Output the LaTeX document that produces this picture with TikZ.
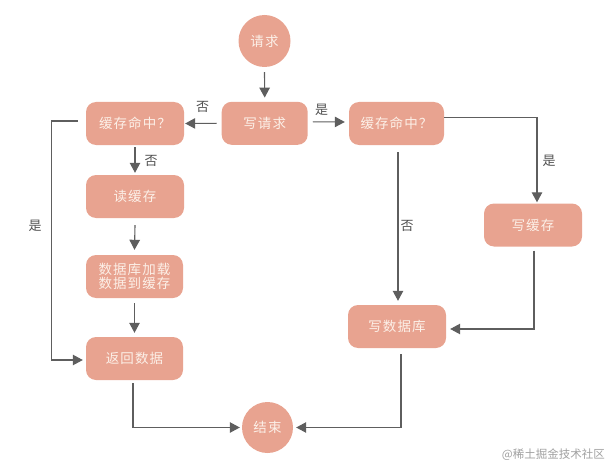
\documentclass[tikz,border=0pt]{standalone}
\usepackage{fontspec}
\usetikzlibrary{arrows.meta}
\newfontfamily\cjk[LetterSpace=8]{Noto Sans CJK SC}
\newfontfamily\cjklbl{Noto Sans CJK SC}
\definecolor{boxfill}{HTML}{E8A390}
\definecolor{boxtext}{HTML}{FCF0E8}
\definecolor{linec}{HTML}{5E5E5E}
\definecolor{lblc}{HTML}{505050}
\definecolor{wmark}{HTML}{A0A0A0}
\tikzset{
  box/.style={draw=none, fill=boxfill, rounded corners=10pt, minimum width=97pt, minimum height=43pt, inner sep=0pt, text=boxtext, font=\cjk\fontsize{13.5}{16}\selectfont, align=center},
  circ/.style={draw=none, fill=boxfill, circle, minimum size=52pt, inner sep=0pt, text=boxtext, font=\cjk\fontsize{13.5}{16}\selectfont},
  arr/.style={draw=linec, line width=1.1pt, -{Triangle[length=10pt,width=10.5pt]}},
  lbl/.style={text=lblc, font=\cjklbl\fontsize{13}{15}\selectfont, inner sep=0pt}
}
\begin{document}
\begin{tikzpicture}[x=1pt,y=-1pt]
\useasboundingbox (0,0) rectangle (610,468);
\node[circ] (req) at (264.5,41) {请求};
\node[box, minimum width=86pt] (wreq) at (264.7,123.3) {写请求};
\node[box, minimum width=98pt] (lhit) at (135,123.5) {缓存命中？};
\node[box, minimum width=98pt] (rcache) at (135,196.5) {读缓存};
\node[box] (load) at (134.5,276.5) {数据库加载\\[-2pt]数据到缓存};
\node[box] (ret) at (134.5,358.5) {返回数据};
\node[circ, minimum size=51pt] (end) at (267.5,427.5) {结束};
\node[box, minimum width=95pt] (rhit) at (396.5,123.5) {缓存命中？};
\node[box, minimum width=98pt] (wcache) at (533,225) {写缓存};
\node[box, minimum width=98pt] (wdb) at (397,326.5) {写数据库};

\draw[arr] ([yshift=-5pt]req.south) -- ([yshift=4pt]wreq.north);
\draw[arr] ([xshift=-5pt]wreq.west) -- ([xshift=1pt]lhit.east);
\draw[arr] ([xshift=5pt,yshift=1.5pt]wreq.east) -- ([xshift=-4pt,yshift=1.5pt]rhit.west);
\draw[arr] ([yshift=-2pt]lhit.south) -- ([yshift=2pt]rcache.north);
\draw[arr] ([yshift=-7pt]rcache.south) -- ([yshift=5pt]load.north);
\draw[arr] ([yshift=-5pt]load.south) -- ([yshift=4pt]ret.north);
\draw[arr] ([xshift=-8pt,yshift=2.5pt]lhit.west) -- ++(-26,0) |- ([xshift=-3pt,yshift=-1.5pt]ret.west);
\draw[arr] ([xshift=-1.5pt,yshift=-3pt]ret.south) |- ([xshift=-2pt]end.west);
\draw[arr] ([yshift=6pt]rhit.east) -| ([xshift=4pt,yshift=1pt]wcache.north);
\draw[arr] ([xshift=1.5pt,yshift=-7pt]rhit.south) -- ([xshift=1pt,yshift=4pt]wdb.north);
\draw[arr] ([xshift=1pt,yshift=-4pt]wcache.south) |- ([xshift=4pt,yshift=-2.5pt]wdb.east);
\draw[arr] ([xshift=4pt,yshift=-6pt]wdb.south) |- ([xshift=3pt]end.east);

\node[lbl] (l1) at (202.5,107) {否};
\node[lbl] (l2) at (321.5,109.5) {是};
\node[lbl] (l3) at (151,160.5) {否};
\node[lbl] (l4) at (35,225.5) {是};
\node[lbl] (l5) at (549,161) {是};
\node[lbl] (l6) at (407,225.5) {否};
\node[text=wmark, font=\cjklbl\fontsize{11.5}{13}\selectfont, anchor=east, inner sep=0pt] (wm) at (605,455) {@稀土掘金技术社区};
\end{tikzpicture}
\end{document}
